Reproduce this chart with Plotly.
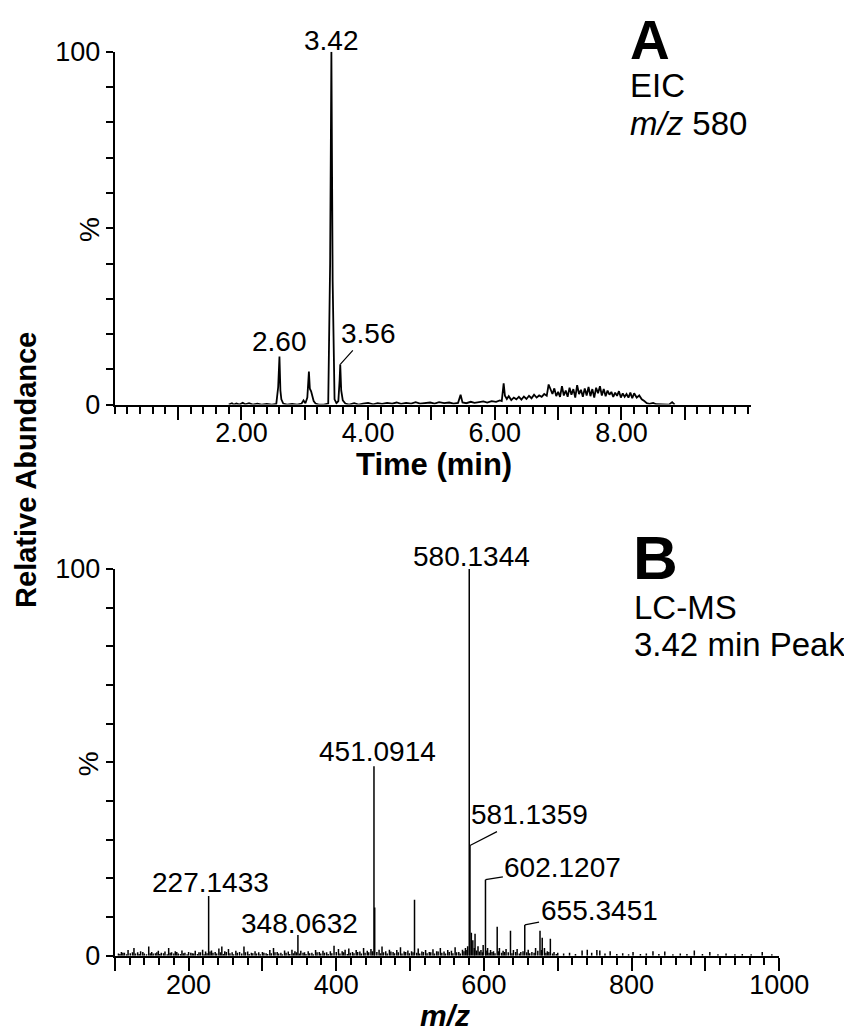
import plotly.graph_objects as go

# ---------------- Panel A: EIC m/z 580 ----------------
time_min = [1.80, 1.85, 1.88, 1.92, 1.97, 2.02, 2.06, 2.12, 2.18, 2.25, 2.32, 2.40, 2.48, 2.55,
            2.58, 2.60, 2.615, 2.63, 2.66, 2.72, 2.80, 2.88, 2.95, 2.98, 3.01, 3.04, 3.065, 3.08,
            3.10, 3.12, 3.14, 3.17, 3.22, 3.30, 3.37, 3.40, 3.42, 3.44, 3.47, 3.50, 3.53, 3.55,
            3.56, 3.575, 3.60, 3.64, 3.70, 3.78, 3.85, 3.92, 4.00, 4.08, 4.15, 4.22, 4.30, 4.38,
            4.45, 4.52, 4.60, 4.68, 4.75, 4.82, 4.90, 4.98, 5.05, 5.12, 5.20, 5.28, 5.35, 5.42,
            5.46, 5.49, 5.55, 5.62, 5.68, 5.75, 5.82, 5.88, 5.95, 6.02, 6.08, 6.11, 6.14, 6.16,
            6.19, 6.22, 6.26, 6.30, 6.34, 6.38, 6.42, 6.46, 6.50, 6.54, 6.58, 6.62, 6.66, 6.70,
            6.74, 6.78, 6.82, 6.85, 6.88, 6.91, 6.94, 6.97, 7.00, 7.03, 7.06, 7.09, 7.12, 7.15,
            7.18, 7.21, 7.24, 7.27, 7.30, 7.33, 7.36, 7.39, 7.42, 7.45, 7.48, 7.51, 7.54, 7.57,
            7.60, 7.63, 7.66, 7.69, 7.72, 7.75, 7.78, 7.81, 7.84, 7.87, 7.90, 7.93, 7.96, 7.99,
            8.02, 8.05, 8.08, 8.11, 8.14, 8.17, 8.20, 8.24, 8.28, 8.32, 8.36, 8.40, 8.44, 8.50,
            8.55, 8.62, 8.75, 8.80, 8.84]
eic_abundance = [0, 0.4, 0, 0.3, 0, 0.5, 0.1, 0.4, 0, 0.3, 0, 0.2, 0, 0.2,
                 5, 13.6, 4, 1.5, 0.3, 0, 0.2, 0, 0.3, 1.2, 0.4, 2, 9.4, 4.5,
                 3.8, 2.5, 1.0, 0.3, 0, 0, 0.3, 40, 100, 35, 1.5, 0.4, 1.0, 7,
                 11.4, 4, 1.2, 0.3, 0, 0.4, 0, 0.3, 0.5, 0.1, 0.4, 0.2, 0.5, 0.3,
                 0.6, 0.2, 0.5, 0.3, 0.7, 0.3, 0.5, 0.6, 0.3, 0.7, 0.4, 0.6, 0.3, 0.5,
                 2.8, 0.6, 0.4, 0.8, 0.5, 0.7, 0.9, 0.6, 1.0, 0.8, 1.2, 1.0, 6.0, 2.5,
                 1.6, 2.4, 1.3, 2.0, 1.5, 2.2, 1.4, 2.3, 1.6, 2.5, 1.8, 2.8, 2.0, 2.6,
                 2.2, 3.0, 2.5, 5.7, 4.2, 3.0, 4.6, 2.4, 3.6, 2.2, 5.2, 2.6, 4.0, 2.2,
                 4.8, 2.8, 4.4, 2.0, 5.5, 3.0, 4.2, 2.2, 4.6, 2.6, 5.0, 2.4, 4.4, 2.0,
                 4.8, 3.2, 5.2, 2.6, 4.4, 2.4, 4.0, 2.8, 3.6, 2.2, 3.4, 2.5, 3.8, 2.0,
                 3.2, 2.2, 3.0, 2.0, 3.4, 1.8, 3.2, 2.0, 2.6, 1.5, 1.0, 0.4, 0.2, 0.5,
                 0.1, 0, 0, 0.7, 0]

eic_labels_t = [2.60, 3.42]
eic_labels_y = [13.6, 100]
eic_labels_txt = ["2.60", "3.42"]
eic_leader_t, eic_leader_y, eic_leader_txt = 3.56, 11.4, "3.56"

# ---------------- Panel B: mass spectrum ----------------
mz_noise = [105, 109, 113, 118, 121, 126, 131, 135, 140, 146, 150, 155, 159, 163, 168, 173, 177,
            182, 186, 191, 195, 200, 205, 209, 214, 219, 223, 231, 236, 241, 245, 249, 254, 259,
            264, 269, 275, 280, 285, 290, 295, 300, 305, 310, 315, 320, 325, 330, 335, 340, 344,
            352, 357, 362, 367, 372, 377, 382, 387, 392, 397, 403, 408, 412, 417, 422, 427, 432,
            437, 442, 447, 458, 462, 467, 472, 477, 482, 487, 492, 497, 502, 511, 516, 521, 526,
            531, 536, 541, 546, 551, 556, 561, 566, 571, 575, 578, 583, 585, 588, 592, 596, 599,
            605, 609, 613, 618, 621, 626, 630, 636, 640, 645, 650, 660, 665, 670, 676, 679, 682,
            686, 690, 695, 700, 708, 716, 724, 733, 740, 746, 753, 757, 764, 771, 780, 788, 796,
            802, 812, 820, 829, 837, 845, 856, 866, 875, 885, 896, 906, 917, 928, 940, 950, 962,
            977, 990]
int_noise = [0.6, 1.0, 0.8, 1.5, 0.7, 2.0, 0.9, 1.2, 0.6, 2.4, 1.0, 0.7, 1.3, 0.8, 1.1, 2.0, 0.9,
             1.2, 0.6, 1.4, 0.8, 1.0, 0.7, 1.3, 0.9, 1.6, 1.1, 1.4, 1.0, 1.9, 2.4, 1.2, 1.8, 0.9,
             1.3, 1.0, 2.4, 1.1, 0.8, 1.2, 0.9, 1.0, 0.7, 1.5, 2.0, 1.0, 0.8, 1.4, 1.1, 1.6, 1.2,
             1.3, 0.9, 1.2, 0.8, 1.5, 1.0, 1.3, 0.9, 1.2, 2.6, 1.8, 1.2, 1.6, 1.9, 1.0, 1.5, 1.1,
             2.0, 1.3, 1.8, 1.6, 2.4, 1.2, 1.6, 1.0, 1.5, 2.2, 1.1, 1.4, 1.2, 1.9, 1.1, 1.5, 1.0,
             1.7, 1.2, 2.0, 1.1, 1.5, 1.3, 2.2, 1.0, 1.6, 2.0, 2.5, 6.0, 4.0, 5.7, 2.5, 1.5, 2.8,
             2.0, 1.5, 1.2, 7.5, 2.0, 1.3, 1.8, 6.5, 1.5, 1.8, 1.0, 1.6, 1.0, 2.0, 6.5, 4.7, 2.0,
             1.2, 4.4, 1.0, 0.8, 0.6, 0.8, 0.5, 1.4, 1.6, 0.8, 1.5, 1.4, 0.6, 1.2, 0.5, 0.7, 0.4,
             1.0, 0.5, 0.6, 1.2, 0.5, 1.1, 0.4, 0.6, 0.5, 1.4, 0.5, 1.0, 0.4, 0.6, 0.4, 0.5, 0.4,
             1.0, 0.4]
mz_noise2 = [107, 111, 116, 124, 128, 133, 138, 143, 148, 152,
             157, 161, 166, 171, 175, 180, 184, 189, 193, 198,
             203, 207, 212, 216, 221, 225, 229, 233, 238, 243,
             247, 251, 256, 261, 266, 272, 277, 282, 287, 292,
             297, 302, 307, 312, 317, 322, 327, 332, 337, 342,
             346, 350, 355, 359, 364, 369, 374, 379, 384, 389,
             394, 400, 405, 410, 415, 419, 424, 429, 434, 439,
             444, 449, 455, 460, 464, 469, 474, 479, 484, 489,
             494, 499, 504, 509, 513, 518, 523, 528, 533, 538,
             543, 548, 553, 558, 563, 568, 573, 577, 587, 590,
             594, 598, 603, 607, 611, 615, 620, 624, 628, 633,
             638, 643, 648, 653, 658, 662, 668, 673, 678, 684,
             688, 693, 698]
int_noise2 = [0.5, 0.8, 0.4, 0.9, 0.6, 0.5, 1.0, 0.4, 0.7, 0.6,
              0.9, 0.5, 0.7, 0.4, 0.8, 0.6, 1.0, 0.5, 0.7, 0.4,
              0.8, 0.6, 0.5, 0.9, 0.4, 0.7, 1.1, 0.8, 0.6, 0.9,
              0.5, 1.0, 0.7, 0.4, 0.8, 0.6, 0.9, 0.5, 0.7, 0.6,
              0.4, 0.8, 0.5, 0.7, 0.9, 0.6, 0.4, 0.8, 0.5, 0.7,
              0.9, 0.6, 0.8, 0.5, 0.7, 0.4, 0.9, 0.6, 0.8, 0.5,
              0.7, 1.0, 0.6, 0.9, 0.5, 0.8, 0.7, 1.0, 0.6, 0.8,
              0.9, 1.2, 1.0, 0.7, 0.9, 0.6, 1.1, 0.7, 0.9, 0.6,
              1.0, 0.7, 0.9, 0.8, 0.6, 1.0, 0.7, 0.9, 0.6, 1.1,
              0.8, 0.6, 1.0, 0.7, 0.9, 0.6, 1.2, 1.5, 2.0, 1.4,
              1.1, 0.9, 1.4, 0.8, 1.0, 0.7, 1.2, 0.8, 1.0, 0.9,
              0.7, 1.0, 0.6, 1.2, 0.9, 0.7, 0.8, 1.3, 1.5, 0.8,
              1.0, 0.6, 0.5]
mz_major = [227.1433, 348.0632, 451.0914, 452.09, 506.0, 580.1344, 581.1359, 602.1207, 655.3451]
int_major = [15.5, 5.4, 49, 12.5, 14.5, 100, 28.5, 19.7, 8.0]

ms_top_labels = ["227.1433", "348.0632", "451.0914", "580.1344"]
ms_top_mz = [227.1433, 348.0632, 451.0914, 580.1344]
ms_top_int = [15.5, 5.4, 49, 100]
ms_leader_labels = ["581.1359", "602.1207", "655.3451"]
ms_leader_mz = [581.1359, 602.1207, 655.3451]
ms_leader_int = [28.5, 19.7, 8.0]

# ---------------- figure ----------------
FONT = "Liberation Sans, Arial, Helvetica, sans-serif"
FW, FH = 864, 1040
S = 0.969           # observed screenshot scale
OFFX, OFFY = 6, 25  # figure position in the page


def fx(X):
    return X / S - OFFX


def fy(Y):
    return Y / S - OFFY


def px_x(X):
    return fx(X) / FW


def px_y(Y):
    return 1 - fy(Y) / FH


def d(v):
    return v / S


fig = go.Figure()

fig.add_trace(go.Scatter(x=time_min, y=eic_abundance, mode="lines",
                         line=dict(color="black", width=1.8), cliponaxis=False,
                         xaxis="x", yaxis="y", showlegend=False, hoverinfo="skip"))

stick_x, stick_y = [], []
for m, i in zip(mz_noise + mz_noise2 + mz_major, int_noise + int_noise2 + int_major):
    stick_x += [m, m, None]
    stick_y += [0, i, None]
fig.add_trace(go.Scatter(x=stick_x, y=stick_y, mode="lines",
                         line=dict(color="black", width=1.5), cliponaxis=False,
                         xaxis="x2", yaxis="y2", showlegend=False, hoverinfo="skip"))

tickfont = dict(family=FONT, size=27, color="black")
y_ticks = list(range(0, 101, 10))
y_text = ["0"] + [""] * 9 + ["100"]

common_y = dict(range=[0, 100], tickvals=y_ticks, ticktext=y_text, ticks="outside",
                ticklen=7, tickwidth=1.5, tickcolor="black", showline=True, linewidth=2,
                linecolor="black", showgrid=False, zeroline=False, tickfont=tickfont,
                fixedrange=True)

fig.update_layout(
    width=FW, height=FH, autosize=False,
    margin=dict(l=0, r=0, t=0, b=0),
    paper_bgcolor="white", plot_bgcolor="white",
    font=dict(family=FONT, color="black"),
    xaxis=dict(domain=[px_x(113), px_x(752)], range=[0, 10.05], anchor="y",
               tickvals=[1, 2, 3, 4, 5, 6, 7, 8, 9],
               ticktext=["", "2.00", "", "4.00", "", "6.00", "", "8.00", ""],
               ticks="outside", ticklen=13, tickwidth=1.5, tickcolor="black",
               ticklabelstandoff=-10,
               minor=dict(dtick=0.2, tick0=0, ticks="outside", ticklen=7, tickwidth=1.5,
                          tickcolor="black"),
               showline=True, linewidth=2, linecolor="black", showgrid=False,
               zeroline=False, tickfont=tickfont),
    yaxis=dict(domain=[px_y(405), px_y(53)], anchor="x", **common_y),
    xaxis2=dict(domain=[px_x(113), px_x(780)], range=[100, 1000], anchor="y2",
                tickvals=list(range(100, 1001, 100)),
                ticktext=["", "200", "", "400", "", "600", "", "800", "", "1000"],
                ticks="outside", ticklen=13, tickwidth=1.5, tickcolor="black",
                ticklabelstandoff=-9,
                minor=dict(dtick=20, tick0=100, ticks="outside", ticklen=7, tickwidth=1.5,
                           tickcolor="black"),
                showline=True, linewidth=2, linecolor="black", showgrid=False,
                zeroline=False, tickfont=tickfont),
    yaxis2=dict(domain=[px_y(955), px_y(569)], anchor="x2", **common_y),
)

ann = []
lblfont = dict(family=FONT, size=28, color="black")

# Panel A peak labels
shiftsA = [15, 11]
for t, a, s, sh in zip(eic_labels_t, eic_labels_y, eic_labels_txt, shiftsA):
    ann.append(dict(x=t, y=a, xref="x", yref="y", text=s, showarrow=False,
                    xanchor="center", yanchor="middle", yshift=d(sh), font=lblfont))
ann.append(dict(x=eic_leader_t, y=eic_leader_y, xref="x", yref="y", text=eic_leader_txt,
                showarrow=True, arrowhead=0, arrowwidth=1.2, arrowcolor="black",
                ax=d(27), ay=d(-30), font=lblfont))

# Panel B peak labels
shiftsB = [13, 11, 14, 12]
xshiftB = [2, 2, 3, 2]
for m, i, s, sh, xs in zip(ms_top_mz, ms_top_int, ms_top_labels, shiftsB, xshiftB):
    ann.append(dict(x=m, y=i, xref="x2", yref="y2", text=s, showarrow=False,
                    xanchor="center", yanchor="middle", yshift=d(sh), xshift=d(xs),
                    font=lblfont))
offsB = [(58, -30), (75, -12), (72, -14)]
for m, i, s, (axo, ayo) in zip(ms_leader_mz, ms_leader_int, ms_leader_labels, offsB):
    ann.append(dict(x=m, y=i, xref="x2", yref="y2", text=s, showarrow=True, arrowhead=0,
                    arrowwidth=1.2, arrowcolor="black", ax=d(axo), ay=d(ayo), font=lblfont))


def txt(X, Y, s, size, angle=0, xa="center"):
    return dict(x=px_x(X), y=px_y(Y), xref="paper", yref="paper", text=s,
                showarrow=False, textangle=angle, xanchor=xa, yanchor="middle",
                font=dict(family=FONT, size=size, color="black"))


ann += [
    txt(433, 465, "<b>Time (min)</b>", 31),
    txt(444, 1015, "<b><i>m/z</i></b>", 30),
    txt(24, 470, "<b>Relative Abundance</b>", 29, angle=-90),
    txt(87, 230, "%", 28, angle=-90),
    txt(87, 763, "%", 28, angle=-90),
    txt(650, 41, "<b>A</b>", 55),
    txt(628, 87, "EIC", 33, xa="left"),
    txt(628, 125, "<i>m/z</i> 580", 33, xa="left"),
    txt(656, 558, "<b>B</b>", 62),
    txt(632, 607, "LC-MS", 33, xa="left"),
    txt(632, 644, "3.42 min Peak", 33, xa="left"),
]
fig.update_layout(annotations=ann)

fig.write_html("out.html")
